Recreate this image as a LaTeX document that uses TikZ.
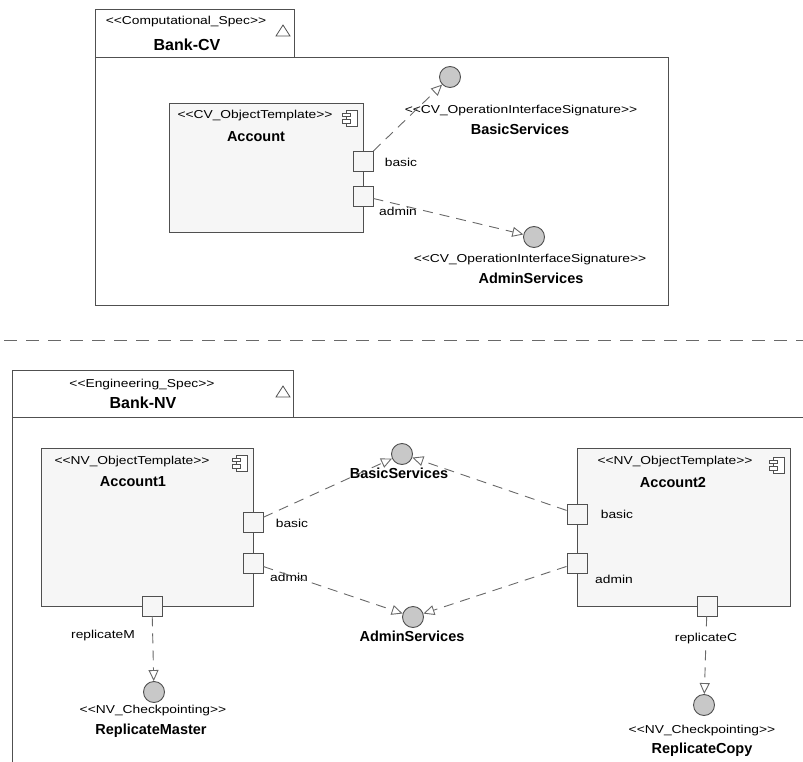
\documentclass[tikz,border=0pt]{standalone}
\usepackage{fontspec}
\setmainfont{Liberation Sans}
\newfontfamily\stfont[FakeStretch=1.2]{Liberation Sans}
\usetikzlibrary{arrows.meta,positioning}

\definecolor{lineGray}{RGB}{80,80,80}
\definecolor{boxFill}{RGB}{246,246,246}
\definecolor{ballFill}{RGB}{200,200,200}
\definecolor{dashGray}{RGB}{105,105,105}

% guillemets written as two plain characters
\newcommand{\stereo}[1]{<\kern0pt<#1>\kern0pt>}

\tikzset{
  stereotext/.style={font=\stfont\fontsize{11.5}{13}\selectfont, inner sep=0pt},
  nametext/.style={font=\bfseries\fontsize{14.5}{17}\selectfont, inner sep=0pt},
  pkgtext/.style={font=\bfseries\fontsize{16}{19}\selectfont, inner sep=0pt},
  porttext/.style={font=\stfont\fontsize{11.5}{13}\selectfont, inner sep=0pt},
  pkgline/.style={draw=lineGray, line width=0.9pt},
  component/.style={draw=lineGray, fill=boxFill, line width=0.9pt, anchor=north west, inner sep=0pt},
  portbox/.style={draw=lineGray, fill=boxFill, line width=0.9pt, minimum width=20pt, minimum height=20pt, inner sep=0pt},
  ball/.style={circle, draw=lineGray, fill=ballFill, line width=0.9pt, minimum size=21pt, inner sep=0pt},
  realize/.style={draw=dashGray, line width=0.9pt, dash pattern=on 10pt off 7pt,
    -{Triangle[open, length=11pt, width=10pt, line width=0.9pt]}},
  sepline/.style={draw=dashGray, line width=1pt, dash pattern=on 13pt off 9pt},
  compicon/.pic={
    \draw[lineGray, line width=0.8pt, fill=white] (-4,-8) rectangle (7,8);
    \draw[lineGray, line width=0.8pt, fill=white] (-8,-5) rectangle (0,-1.5);
    \draw[lineGray, line width=0.8pt, fill=white] (-8,1.5) rectangle (0,5);
  },
  pkgmark/.pic={
    \draw[lineGray, line width=0.8pt] (-7,5) -- (7,5) -- (0,-6) -- cycle;
  }
}

\begin{document}
\begin{tikzpicture}[x=1pt, y=-1pt]
\useasboundingbox (0,0) rectangle (803,762);

% Bank-CV package
\draw[pkgline] (95,9) rectangle (294,57);
\draw[pkgline] (95,57) rectangle (668,305);
\node[stereotext] (cvstereo) at (186,22) {\stereo{Computational\_Spec}};
\node[pkgtext] (cvname) at (187,45) {Bank-CV};
\pic at (283,31) {pkgmark};

\node[component, minimum width=194pt, minimum height=129pt] (acc) at (169,103) {};
\node[stereotext] (accstereo) at (255,116) {\stereo{CV\_ObjectTemplate}};
\node[nametext] (accname) at (256,137) {Account};
\pic at (350,118) {compicon};

\node[portbox] (cvbasic) at (363,161) {};
\node[portbox] (cvadmin) at (363,196) {};
\node[porttext] (cvbasiclbl) at (401,162) {basic};
\node[porttext] (cvadminlbl) at (398,211) {admin};

\node[ball] (cvbsrv) at (450,77) {};
\node[stereotext] (cvbstereo) at (521,111) {\stereo{CV\_OperationInterfaceSignature}};
\node[nametext] (cvbname) at (520,129) {BasicServices};

\node[ball] (cvasrv) at (534,237) {};
\node[stereotext] (cvastereo) at (530,260) {\stereo{CV\_OperationInterfaceSignature}};
\node[nametext] (cvaname) at (531,278) {AdminServices};

\draw[realize] (cvbasic) -- (cvbsrv);
\draw[realize] (cvadmin) -- (cvasrv);

% separator
\coordinate (sepl) at (4,340);
\coordinate (sepr) at (803,340);
\draw[sepline] (sepl) -- (sepr);

% Bank-NV package
\draw[pkgline] (12,370) rectangle (293,417);
\draw[pkgline] (12,762) -- (12,417) -- (803,417);
\node[stereotext] (nvstereo) at (142,385) {\stereo{Engineering\_Spec}};
\node[pkgtext] (nvname) at (143,403) {Bank-NV};
\pic at (283,392) {pkgmark};

% Account1
\node[component, minimum width=212pt, minimum height=158pt] (acc1) at (41,448) {};
\node[stereotext] (acc1stereo) at (132,462) {\stereo{NV\_ObjectTemplate}};
\node[nametext] (acc1name) at (133,482) {Account1};
\pic at (240,463) {compicon};
\node[portbox] (a1basic) at (253,522) {};
\node[portbox] (a1admin) at (253,563) {};
\node[portbox] (a1rep) at (152,606) {};
\node[porttext] (a1basiclbl) at (292,523) {basic};
\node[porttext] (a1adminlbl) at (289,577) {admin};
\node[porttext] (a1replbl) at (103,636) {replicateM};

% Account2
\node[component, minimum width=213pt, minimum height=158pt] (acc2) at (577,448) {};
\node[stereotext] (acc2stereo) at (675,462) {\stereo{NV\_ObjectTemplate}};
\node[nametext] (acc2name) at (673,483) {Account2};
\pic at (777,465) {compicon};
\node[portbox] (a2basic) at (577,514) {};
\node[portbox] (a2admin) at (577,563) {};
\node[portbox] (a2rep) at (707,606) {};
\node[porttext] (a2basiclbl) at (617,514) {basic};
\node[porttext] (a2adminlbl) at (614,579) {admin};

% shared interfaces
\node[ball] (nvbsrv) at (402,454) {};
\node[nametext] (nvbname) at (399,473) {BasicServices};
\node[ball] (nvasrv) at (413,617) {};
\node[nametext] (nvaname) at (412,636) {AdminServices};

\node[ball] (rmball) at (154,692) {};
\node[stereotext] (rmstereo) at (153,711) {\stereo{NV\_Checkpointing}};
\node[nametext] (rmname) at (151,731) {ReplicateMaster};

\node[ball] (rcball) at (704,705) {};
\node[stereotext] (rcstereo) at (702,731) {\stereo{NV\_Checkpointing}};
\node[nametext] (rcname) at (702,750) {ReplicateCopy};

\draw[realize] (a1basic) -- (nvbsrv);
\draw[realize] (a2basic) -- (nvbsrv);
\draw[realize] (a1admin) -- (nvasrv);
\draw[realize] (a2admin) -- (nvasrv);
\draw[realize] (a1rep) -- (rmball);
\draw[realize] (a2rep) -- (rcball);
\node[porttext, fill=white, inner sep=1pt] (a2replbl) at (706,639) {replicateC};
\end{tikzpicture}
\end{document}
